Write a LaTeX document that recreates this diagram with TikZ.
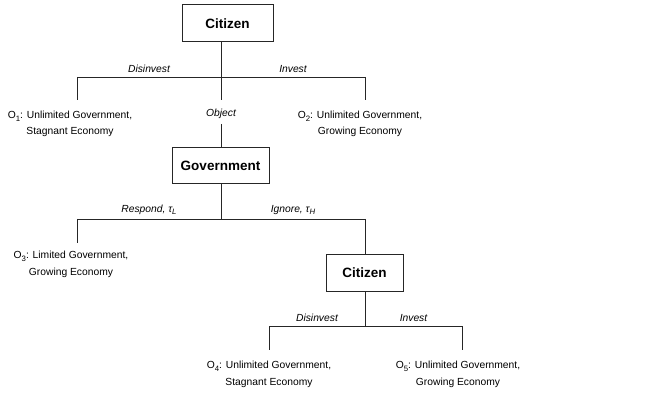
\documentclass[tikz,border=0pt]{standalone}
\usepackage{fontspec}
\setmainfont{Liberation Sans}
\newcommand{\mysub}[1]{\raisebox{-2.6pt}{\fontsize{7.8}{8}\selectfont #1}}
\begin{document}
\begin{tikzpicture}[x=1pt,y=-1pt,
  every node/.style={inner sep=0pt,outer sep=0pt},
  decbox/.style={draw=black!85,line width=1pt,font=\fontsize{13.5}{16}\selectfont\bfseries},
  outcome/.style={align=center,font=\fontsize{10.3}{16.5}\selectfont},
  act/.style={font=\fontsize{10.3}{12}\selectfont\itshape},
  edge/.style={draw=black!85,line width=0.9pt}]
\useasboundingbox (0,0) rectangle (646,393);
% decision boxes
\node[decbox,minimum width=91pt,minimum height=37pt] (c1) at (227.5,23.5) {Citizen};
\node[decbox,minimum width=97pt,minimum height=36pt] (gov) at (220.5,166) {Government};
\node[decbox,minimum width=77pt,minimum height=36pt] (c2) at (364.5,273) {Citizen};
% junctions
\coordinate (j1) at (221,77);
\coordinate (j1l) at (77,77);
\coordinate (j1r) at (365,77);
\coordinate (j2) at (221,219);
\coordinate (j2l) at (77,219);
\coordinate (j2r) at (365,219);
\coordinate (j3) at (365,326);
\coordinate (j3l) at (269,326);
\coordinate (j3r) at (462,326);
% outcomes
\node[outcome] (o1) at (70,124) {O\mysub{1}: Unlimited Government,\\Stagnant Economy};
\node[outcome] (o2) at (360,124) {O\mysub{2}: Unlimited Government,\\Growing Economy};
\node[act] (obj) at (221,114) {Object};
\node[outcome] (o3) at (71,264.5) {O\mysub{3}: Limited Government,\\Growing Economy};
\node[outcome] (o4) at (269,374.5) {O\mysub{4}: Unlimited Government,\\Stagnant Economy};
\node[outcome] (o5) at (458,374.5) {O\mysub{5}: Unlimited Government,\\Growing Economy};
% connectors: first citizen
\draw[edge] (c1.south -| j1) -- (j1);
\draw[edge] (j1l) -- node[act,above=4pt,midway]{Disinvest} (j1);
\draw[edge] (j1) -- node[act,above=4pt,midway]{Invest} (j1r);
\draw[edge] (j1l) -- ([yshift=-23pt]j1l);
\draw[edge] (j1r) -- ([yshift=-23pt]j1r);
\draw[edge] (j1) -- ([yshift=-23pt]j1);
\draw[edge] ([yshift=-10pt]obj.center) -- (gov.north -| obj);
% government
\draw[edge] (gov.south -| j2) -- (j2);
\draw[edge] (j2l) -- node[act,above=4pt,midway]{Respond, τ\mysub{\textit{L}}} (j2);
\draw[edge] (j2) -- node[act,above=4pt,midway]{Ignore, τ\mysub{\textit{H}}} (j2r);
\draw[edge] (j2l) -- ([yshift=-24pt]j2l);
\draw[edge] (j2r) -- (c2.north -| j2r);
% second citizen
\draw[edge] (c2.south -| j3) -- (j3);
\draw[edge] (j3l) -- node[act,above=4pt,midway]{Disinvest} (j3);
\draw[edge] (j3) -- node[act,above=4pt,midway]{Invest} (j3r);
\draw[edge] (j3l) -- ([yshift=-24pt]j3l);
\draw[edge] (j3r) -- ([yshift=-24pt]j3r);
\end{tikzpicture}
\end{document}
